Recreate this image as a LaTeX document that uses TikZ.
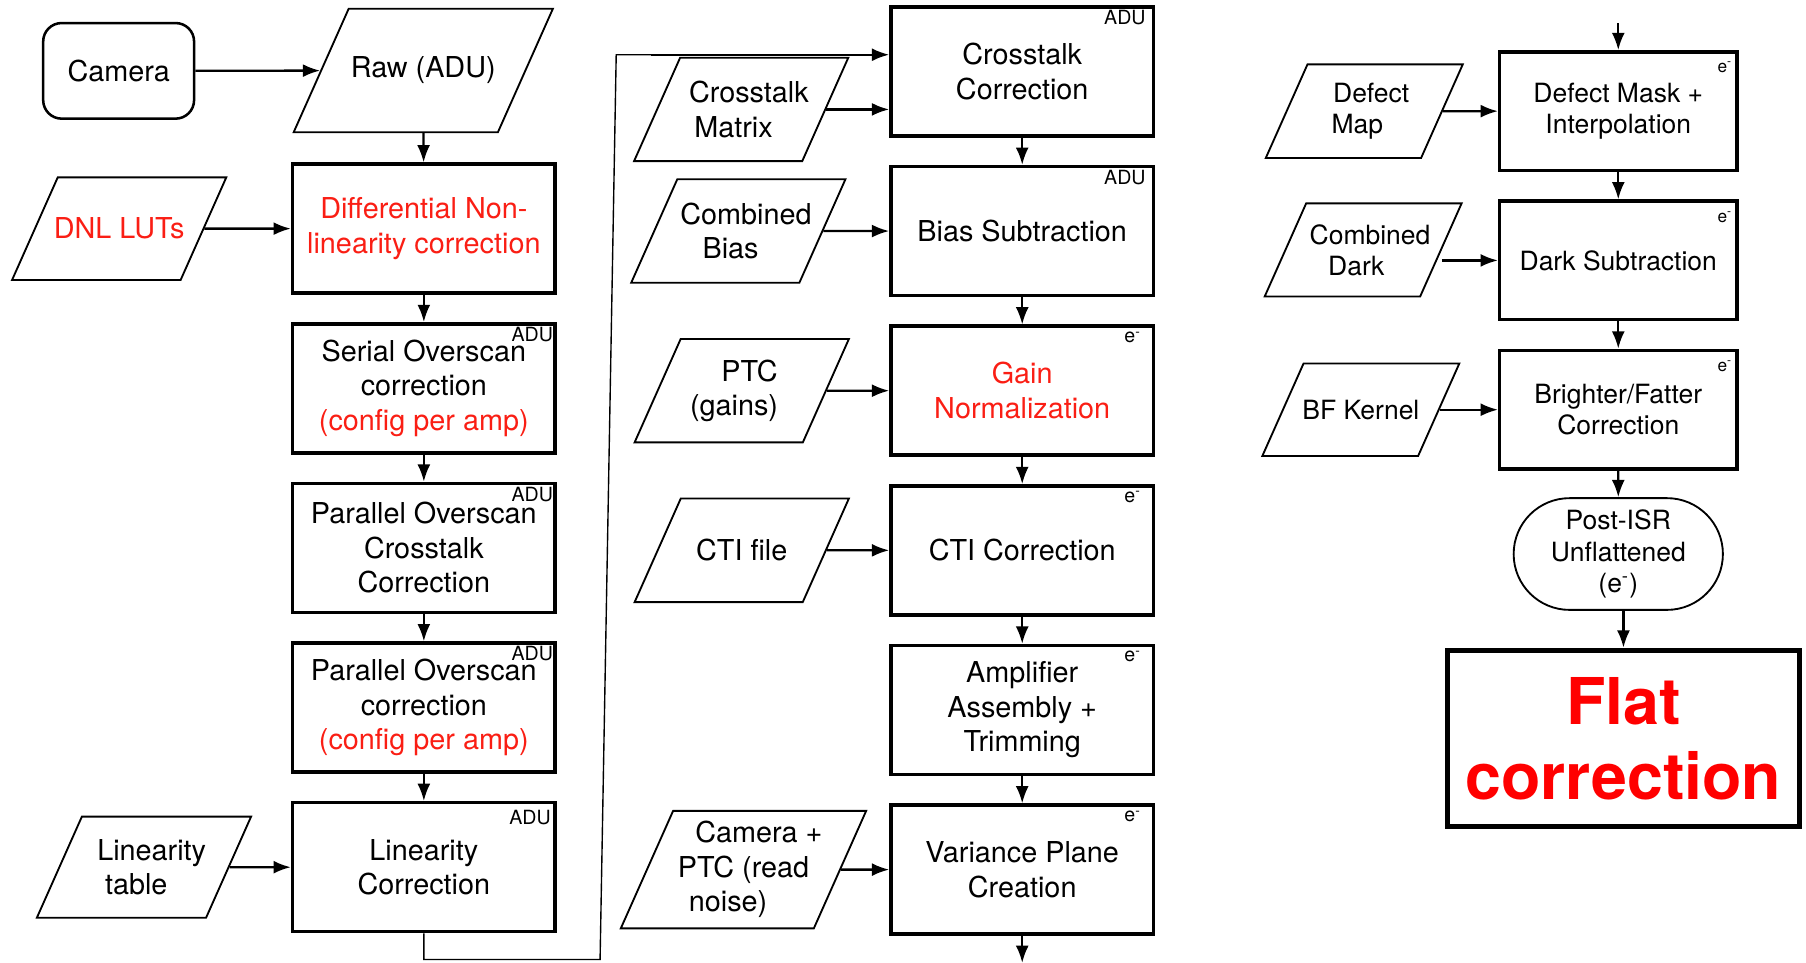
\documentclass[tikz,border=0pt]{standalone}
\usepackage{fontspec}
\setmainfont{TeX Gyre Heros}
\usetikzlibrary{positioning, shapes.geometric, shapes.misc, arrows.meta, calc}
\definecolor{isrred}{RGB}{250,30,20}
% Shift a text line along the slanted side of an input
\newcommand{\slantpad}[1][6.7pt]{\hspace*{#1}}

\begin{document}
\begin{tikzpicture}[
    x=0.5pt, y=-0.5pt,
    >=LaTeX, % Use default LaTeX arrows
    node distance=11.8pt,
    % Styles
    process/.style={ % ISR step
        draw,
        line width=1.5pt,
        minimum width=114pt,
        minimum height=56pt,
        align=center,
        inner sep=2pt,
        font=\fontsize{12.5}{15}\selectfont
    },
    narrow/.style={ % ISR step in the right column
        process,
        minimum width=103pt,
        minimum height=51.5pt,
        font=\fontsize{11.5}{13.5}\selectfont
    },
    calib/.style={ % Calibration input, #1 sets its height
        trapezium,
        trapezium left angle=66,
        trapezium right angle=114,
        trapezium stretches body=true,
        draw,
        line width=0.8pt,
        align=center,
        inner xsep=-12pt, % text may run into the slanted corners
        inner ysep=#1,
        minimum width=93pt,
        font=\fontsize{12.5}{15}\selectfont
    },
    calib/.default=10.2pt,
    small/.style={ % Calibration input in the right column
        calib=#1,
        minimum width=85.5pt,
        font=\fontsize{11.5}{13.5}\selectfont
    },
    unitlabel/.style={ % ADU or e- in the corner
        anchor=north east,
        inner sep=0pt,
        font=\fontsize{8.5}{9}\selectfont
    },
    arrow/.style={
        ->,
        line width=1pt
    }
]
    \useasboundingbox (0,0) rectangle (1568,836);

    % Left column
    \node[draw, rounded corners=8pt, line width=1.1pt, minimum width=65.5pt, minimum height=41.5pt, font=\fontsize{12.5}{15}\selectfont] (camera) at (103,61.5) {Camera};
    \node[calib=20.9pt, minimum width=112.5pt] (raw) at (367.5,61.2) {Raw (ADU)};
    \node[process, text=isrred] (dnl) at (368,198.5) {Differential Non-\\linearity correction};
    \node[process, below=of dnl] (serial) {Serial Overscan\\correction\\\textcolor{isrred}{(config per amp)}};
    \node[process, below=of serial] (parxtalk) {Parallel Overscan\\Crosstalk\\Correction};
    \node[process, below=of parxtalk] (parallel) {Parallel Overscan\\correction\\\textcolor{isrred}{(config per amp)}};
    \node[process, below=of parallel] (lin) {Linearity\\Correction};
    \node[calib=17.6pt, text=isrred] (dnllut) at (dnl -| 103.5,0) {DNL LUTs};
    \node[calib=9.8pt] (lintable) at (lin -| 125,0) {\slantpad Linearity\\table\slantpad};

    % Middle column
    \node[process] (xtalk) at (887.5,62) {Crosstalk\\Correction};
    \node[process, below=of xtalk] (bias) {Bias Subtraction};
    \node[process, below=of bias, text=isrred] (gain) {Gain\\Normalization};
    \node[process, below=of gain] (cti) {CTI Correction};
    \node[process, below=of cti] (amp) {Amplifier\\Assembly +\\Trimming};
    \node[process, below=of amp] (var) {Variance Plane\\Creation};
    \node[calib] (xmatrix) at (643.5,95) {\slantpad Crosstalk\\Matrix\slantpad};
    \node[calib] (cbias) at (bias -| 641,0) {\slantpad Combined\\Bias\slantpad};
    \node[calib=8.9pt] (ptc) at (gain -| 644,0) {\slantpad PTC\\(gains)\slantpad};
    \node[calib=17.7pt] (ctifile) at (cti -| 644,0) {CTI file};
    \node[calib=4.5pt, minimum width=106.5pt] (campt) at (var -| 645.5,0) {\slantpad[13.4pt]Camera +\\PTC (read\\noise)\slantpad[13.4pt]};

    % Right column
    \node[narrow] (defect) at (1405,96.5) {Defect Mask +\\Interpolation};
    \node[narrow, below=of defect] (dark) {Dark Subtraction};
    \node[narrow, below=of dark] (bf) {Brighter/Fatter\\Correction};
    \node[rounded rectangle, draw, line width=0.8pt, minimum width=97.5pt, minimum height=48.5pt, align=center, font=\fontsize{11.5}{13.75}\selectfont, below=11.5pt of bf] (postisr) {Post-ISR\\Unflattened\\(e\textsuperscript{-})};
    \node[draw, line width=2.3pt, minimum width=153pt, minimum height=76.5pt, align=center, text=red, font=\fontsize{28}{32.5}\selectfont\bfseries, below=16pt of postisr, xshift=2.25pt] (flat) {Flat\\correction};
    \node[small=8.1pt] (defmap) at (defect -| 1184.5,0) {\slantpad[6pt]Defect\\Map\slantpad[6pt]};
    \node[small=9.1pt] (cdark) at (1183.5,217) {\slantpad[6pt]Combined\\Dark\slantpad[6pt]};
    \node[small=15.8pt] (bfkernel) at (bf -| 1181.5,0) {BF Kernel};

    % Units of the image after each step
    \node[unitlabel] (serialunit) at ([shift={(-1.5pt,-2pt)}]serial.north east) {ADU};
    \node[unitlabel] (parxtalkunit) at ([shift={(-1.5pt,-2pt)}]parxtalk.north east) {ADU};
    \node[unitlabel] (parallelunit) at ([shift={(-1.5pt,-2pt)}]parallel.north east) {ADU};
    \node[unitlabel] (linunit) at ([shift={(-2.5pt,-4pt)}]lin.north east) {ADU};
    \node[unitlabel] (xtalkunit) at ([shift={(-4pt,-2pt)}]xtalk.north east) {ADU};
    \node[unitlabel] (biasunit) at ([shift={(-4pt,-2pt)}]bias.north east) {ADU};
    \node[unitlabel] (gainunit) at ([shift={(-6pt,-3pt)}]gain.north east) {e\textsuperscript{-}};
    \node[unitlabel] (ctiunit) at ([shift={(-6pt,-3pt)}]cti.north east) {e\textsuperscript{-}};
    \node[unitlabel] (ampunit) at ([shift={(-6pt,-3pt)}]amp.north east) {e\textsuperscript{-}};
    \node[unitlabel] (varunit) at ([shift={(-6pt,-3pt)}]var.north east) {e\textsuperscript{-}};
    \node[unitlabel, font=\fontsize{7.5}{8}\selectfont] (defectunit) at ([shift={(-2.5pt,-5pt)}]defect.north east) {e\textsuperscript{-}};
    \node[unitlabel, font=\fontsize{7.5}{8}\selectfont] (darkunit) at ([shift={(-2.5pt,-5pt)}]dark.north east) {e\textsuperscript{-}};
    \node[unitlabel, font=\fontsize{7.5}{8}\selectfont] (bfunit) at ([shift={(-2.5pt,-5pt)}]bf.north east) {e\textsuperscript{-}};

    % Free ends and the jump between columns
    \coordinate (top3) at (1405,20);
    \coordinate (bottom2) at (887.5,836);
    \coordinate (loopa) at (521,833);
    \coordinate (loopb) at (535,47.5);
    \coordinate (loopc) at (565,47.5);

    % Left column edges
    \draw[arrow] (camera) -- (raw);
    \draw[arrow] (raw) -- (dnl);
    \draw[arrow] (dnllut) -- (dnl);
    \draw[arrow] (dnl) -- (serial);
    \draw[arrow] (serial) -- (parxtalk);
    \draw[arrow] (parxtalk) -- (parallel);
    \draw[arrow] (parallel) -- (lin);
    \draw[arrow] (lintable) -- (lin);
    \draw[line width=0.6pt] (lin.south) |- (loopa) -- (loopb) -- (loopc);

    % Middle column edges
    \draw[arrow] (loopc) -- (loopc -| xtalk.west);
    \draw[arrow] (xmatrix.east) -- (xmatrix.east -| xtalk.west);
    \draw[arrow] (xtalk) -- (bias);
    \draw[arrow] (cbias) -- (bias);
    \draw[arrow] (bias) -- (gain);
    \draw[arrow] (ptc) -- (gain);
    \draw[arrow] (gain) -- (cti);
    \draw[arrow] (ctifile) -- (cti);
    \draw[arrow] (cti) -- (amp);
    \draw[arrow] (amp) -- (var);
    \draw[arrow] (campt) -- (var);
    \draw[arrow] (var) -- (bottom2);

    % Right column edges
    \draw[arrow] (top3) -- (defect);
    \draw[arrow] (defmap) -- (defect);
    \draw[arrow] (defect) -- (dark);
    \draw[arrow] (cdark.east |- dark) -- (dark);
    \draw[arrow] (dark) -- (bf);
    \draw[arrow] (bfkernel) -- (bf);
    \draw[arrow] (bf) -- (postisr);
    \draw[arrow] (postisr.south -| flat.north) -- (flat.north);
\end{tikzpicture}
\end{document}
